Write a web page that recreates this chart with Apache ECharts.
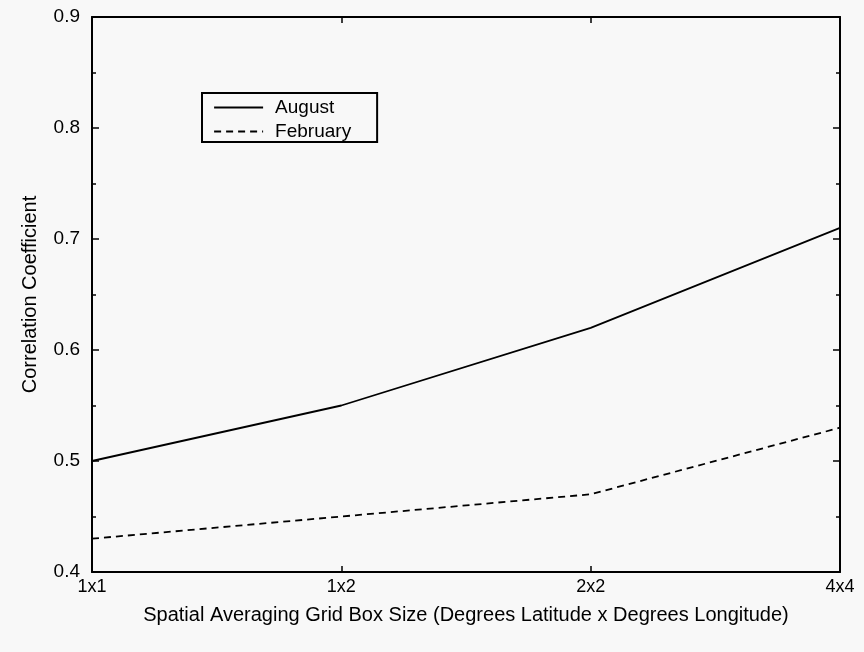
<!DOCTYPE html>
<html>
<head>
<meta charset="utf-8">
<script src="https://cdn.jsdelivr.net/npm/echarts@6/dist/echarts.min.js"></script>
<style>
html,body{margin:0;padding:0;background:#f8f8f8;}
#c{width:864px;height:652px;}
</style>
</head>
<body>
<div id="c"></div>
<script>
const categories = ['1x1', '1x2', '2x2', '4x4'];
const august = [0.50, 0.55, 0.62, 0.71];
const february = [0.43, 0.45, 0.47, 0.53];
const yTicks = [0.4, 0.5, 0.6, 0.7, 0.8, 0.9];

const chart = echarts.init(document.getElementById('c'), null, {renderer: 'canvas'});
const font = 'Liberation Sans, Arial, sans-serif';
const axisLine = {show: true, lineStyle: {color: '#000', width: 2}};
chart.setOption({
  backgroundColor: '#f8f8f8',
  animation: false,
  grid: {left: 92, right: 24, top: 17, bottom: 80},
  legend: {
    left: 202, top: 93, orient: 'vertical',
    backgroundColor: '#f8f8f8',
    borderColor: '#000', borderWidth: 2, borderRadius: 0,
    padding: [5, 26, 1, 11],
    itemWidth: 49, itemHeight: 14, itemGap: 5,
    itemStyle: {opacity: 0},
    lineStyle: {width: 2.2},
    textStyle: {fontFamily: font, fontSize: 19, color: '#000', padding: [0, 0, 0, 7]},
    data: ['August', 'February']
  },
  xAxis: [{
    type: 'category', data: categories, boundaryGap: false,
    name: 'Spatial Averaging Grid Box Size (Degrees Latitude x Degrees Longitude)',
    nameLocation: 'middle', nameGap: 33,
    nameTextStyle: {fontFamily: font, fontSize: 20, color: '#000'},
    axisLine: axisLine,
    axisTick: {show: true, inside: true, length: 6, alignWithLabel: true, lineStyle: {color: '#000', width: 1.5}},
    axisLabel: {fontFamily: font, fontSize: 18, color: '#000', margin: 6},
    splitLine: {show: false}
  }, {
    type: 'category', data: categories, boundaryGap: false, position: 'top',
    axisLine: axisLine,
    axisTick: {show: true, inside: true, length: 6, lineStyle: {color: '#000', width: 1.5}},
    axisLabel: {show: false}, splitLine: {show: false}
  }],
  yAxis: [{
    type: 'value', min: 0.4, max: 0.9, interval: 0.1,
    name: 'Correlation Coefficient', nameLocation: 'middle', nameGap: 52, nameRotate: 90,
    nameTextStyle: {fontFamily: font, fontSize: 20, color: '#000'},
    axisLine: axisLine,
    axisTick: {show: true, inside: true, length: 7, lineStyle: {color: '#000', width: 1.5}},
    minorTick: {show: true, splitNumber: 2, length: 4, lineStyle: {color: '#000', width: 1.5}},
    axisLabel: {fontFamily: font, fontSize: 19, color: '#000', margin: 12,
      formatter: v => { const t = yTicks.find(x => Math.abs(x - v) < 1e-9); return t !== undefined ? t.toFixed(1) : ''; }},
    splitLine: {show: false}
  }, {
    type: 'value', min: 0.4, max: 0.9, interval: 0.1, position: 'right',
    axisLine: axisLine,
    axisTick: {show: true, inside: true, length: 7, lineStyle: {color: '#000', width: 1.5}},
    minorTick: {show: true, splitNumber: 2, length: 4, lineStyle: {color: '#000', width: 1.5}},
    axisLabel: {show: false}, splitLine: {show: false}
  }],
  series: [{
    name: 'August', type: 'line', data: august, symbol: 'none',
    lineStyle: {color: '#000', width: 1.8, type: 'solid'},
    itemStyle: {color: '#000'}
  }, {
    name: 'February', type: 'line', data: february, symbol: 'none',
    lineStyle: {color: '#000', width: 1.8, type: [7, 5]},
    itemStyle: {color: '#000'}
  }]
});
</script>
</body>
</html>
